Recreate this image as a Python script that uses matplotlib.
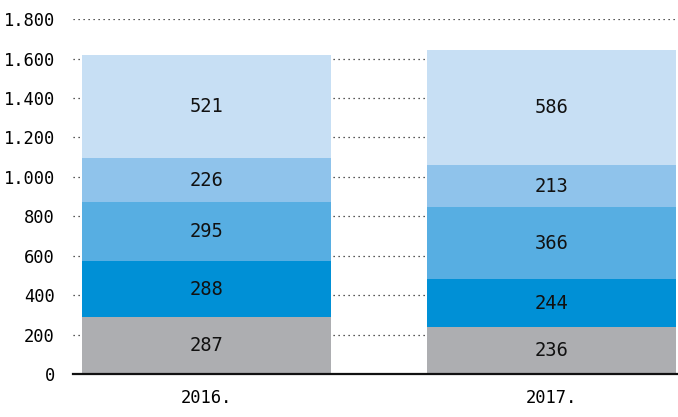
import matplotlib.pyplot as plt
from matplotlib.ticker import FuncFormatter

years = ["2016.", "2017."]
gray = [287, 236]
dark_blue = [288, 244]
mid_blue = [295, 366]
light_blue = [226, 213]
pale_blue = [521, 586]

series = [gray, dark_blue, mid_blue, light_blue, pale_blue]
colors = ["#adaeb1", "#0090d6", "#57aee2", "#8fc3eb", "#c7dff4"]

plt.rcParams["font.family"] = "DejaVu Sans Mono"

fig = plt.figure(figsize=(6.78, 4.17), dpi=100)
ax = fig.add_axes([0.1077, 0.1031, 0.8923, 0.851])

x = range(len(years))
bottom = [0, 0]
for vals, col in zip(series, colors):
    ax.bar(x, vals, bottom=bottom, width=0.722, color=col, zorder=2)
    for i, v in enumerate(vals):
        ax.text(i, bottom[i] + v / 2, str(v), ha="center", va="center",
                fontsize=13.5, color="#111111", zorder=3)
    bottom = [b + v for b, v in zip(bottom, vals)]

ax.set_xlim(-0.387, 1.367)
ax.set_ylim(0, 1800)
ax.set_yticks(range(0, 1801, 200))
ax.yaxis.set_major_formatter(FuncFormatter(lambda v, p: f"{int(v):,}".replace(",", ".")))
ax.set_xticks(list(x))
ax.set_xticklabels(years)
ax.grid(axis="y", linestyle=(0, (1, 3)), color="#222222", linewidth=0.9, zorder=1)
ax.tick_params(axis="y", length=0, pad=13, labelsize=12.3)
ax.tick_params(axis="x", length=0, pad=11, labelsize=12.3)
for s in ["top", "right", "left"]:
    ax.spines[s].set_visible(False)
ax.spines["bottom"].set_linewidth(1.6)
ax.spines["bottom"].set_color("#111111")
ax.spines["bottom"].set_zorder(4)

fig.savefig("out.png", dpi=100)
